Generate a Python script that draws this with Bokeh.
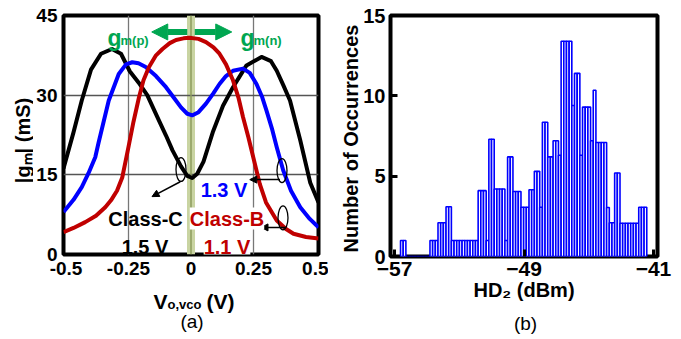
import numpy as np
from bokeh.plotting import figure
from bokeh.layouts import row, column
from bokeh.models import FixedTicker, Label, Arrow, NormalHead, Range1d, Span
from bokeh.core.properties import value
from bokeh.embed import file_html
from bokeh.resources import INLINE

# ---------------- Panel (a): |gm| vs V_o,vco ----------------
vx_classc = [-0.51, -0.47, -0.437, -0.40, -0.36, -0.316, -0.28, -0.245, -0.21, -0.175,
             -0.128, -0.10, -0.074, -0.04, -0.015, 0.005, 0.025, 0.05, 0.087, 0.128,
             0.168, 0.222, 0.282, 0.32, 0.343, 0.37, 0.396, 0.437, 0.477, 0.51]
gm_classc = [16.2, 23.0, 29.0, 34.8, 37.8, 38.7, 37.8, 34.5, 32.4, 30.0,
             25.2, 22.4, 19.6, 16.6, 14.8, 14.4, 15.2, 17.5, 23.0, 28.0,
             31.5, 35.6, 37.2, 36.4, 34.6, 31.8, 29.0, 21.5, 13.5, 9.8]

vx_13v = [-0.51, -0.47, -0.437, -0.41, -0.383, -0.37, -0.329, -0.289, -0.26, -0.235,
          -0.21, -0.181, -0.14, -0.10, -0.07, -0.04, -0.015, 0.006, 0.03, 0.06,
          0.09, 0.114, 0.14, 0.168, 0.208, 0.235, 0.262, 0.285, 0.302, 0.325,
          0.343, 0.369, 0.40, 0.437, 0.475, 0.51]
gm_13v = [8.0, 10.3, 12.7, 15.3, 18.3, 21.0, 29.0, 34.0, 35.8, 36.2,
          36.0, 35.3, 33.6, 31.5, 29.6, 27.7, 26.5, 26.2, 26.8, 28.4,
          30.4, 32.1, 33.6, 34.6, 35.0, 34.2, 32.1, 29.6, 27.1, 23.5,
          20.2, 15.8, 12.0, 8.9, 6.7, 5.1]

vx_classb = [-0.51, -0.47, -0.423, -0.38, -0.343, -0.32, -0.296, -0.275, -0.262, -0.249,
             -0.23, -0.208, -0.19, -0.168, -0.14, -0.114, -0.085, -0.06, -0.03, -0.007,
             0.03, 0.06, 0.09, 0.114, 0.14, 0.168, 0.19, 0.208, 0.23, 0.249,
             0.275, 0.30, 0.343, 0.38, 0.41, 0.46, 0.51]
gm_classb = [4.2, 5.0, 6.1, 7.3, 8.9, 10.2, 12.0, 14.5, 17.5, 20.5,
             25.0, 29.6, 32.8, 35.3, 37.5, 38.7, 39.8, 40.4, 40.7, 40.8,
             40.6, 40.0, 39.0, 37.8, 35.8, 32.8, 29.5, 25.9, 22.0, 18.3,
             13.3, 9.8, 6.4, 4.8, 3.9, 3.3, 3.0]

xticks_a = [-0.5, -0.25, 0, 0.25, 0.5]
yticks_a = [0, 15, 30, 45]

# annotation marks (ellipses / pointer arrows) in data units
ell_x = [-0.040, 0.364, 0.368]
ell_y = [16.0, 15.8, 6.9]
ptr_x0 = [-0.043, 0.356, 0.377]
ptr_y0 = [13.7, 14.1, 5.1]
ptr_x1 = [-0.156, 0.235, 0.280]
ptr_y1 = [10.9, 14.1, 5.1]

# ---------------- Panel (b): HD2 histogram ----------------
hd2_start = -56.63
hd2_bin = 0.1654
hd2_counts = [1, 1,
              0, 0, 0, 0, 0, 0, 0, 0, 0,
              1, 1, 1,
              2.1, 2.1, 2.1,
              3.1, 3.1,
              1, 1, 1, 1, 1, 1, 1, 1, 1, 1,
              4.1, 4.1, 4.1,
              1,
              7.3, 7.3,
              4.2, 4.2, 4.2, 4.2,
              1,
              6.2, 6.2,
              4.05, 4.05, 4.05,
              3.07, 3.07, 3.07,
              4.15, 4.15,
              5.3, 5.3,
              3.07,
              8.36, 8.36,
              6.2, 6.2,
              7.2, 7.2,
              6.3,
              13.4, 13.4, 13.4, 13.4,
              9.4,
              11.4, 11.4,
              6.3,
              9.3, 9.3, 9.3,
              7.2,
              10.35,
              7.1, 7.1, 7.1, 7.1,
              3.05,
              2.1, 2.1,
              5.2, 5.2,
              2.07, 2.07, 2.07, 2.07, 2.07, 2.07, 2.07,
              3.07, 3.07, 3.07]
xticks_b = [-57, -49, -41]
yticks_b = [0, 5, 10, 15]

FONT = "Liberation Sans"
GREEN = "#00a651"
RED = "#c00000"
BLUE = "#0000ff"


def style(p, xt, yt, tick_in, xfs, yfs, xstand, ystand):
    p.outline_line_color = "black"
    p.outline_line_width = 4
    p.background_fill_color = "white"
    p.border_fill_color = "white"
    p.xaxis.ticker = FixedTicker(ticks=xt)
    p.yaxis.ticker = FixedTicker(ticks=yt)
    for ax, fs, st in ((p.xaxis, xfs, xstand), (p.yaxis, yfs, ystand)):
        ax.axis_line_color = None
        ax.minor_tick_line_color = None
        ax.major_tick_out = 0
        ax.major_tick_in = tick_in
        ax.major_tick_line_width = 3
        ax.major_tick_line_color = "black" if tick_in else None
        ax.major_label_text_font = FONT
        ax.major_label_text_font_style = "bold"
        ax.major_label_text_font_size = fs
        ax.major_label_text_color = "black"
        ax.major_label_standoff = st


def text_fig(w, h, xr=None):
    f = figure(width=w, height=h, x_range=Range1d(0, xr if xr else w), y_range=Range1d(h, 0),
               output_backend="svg", toolbar_location=None, x_axis_type=None,
               y_axis_type=None, title=None, min_border=0, min_border_left=0,
               min_border_right=0, min_border_top=0, min_border_bottom=0)
    f.outline_line_color = None
    f.xgrid.visible = False
    f.ygrid.visible = False
    f.background_fill_color = "white"
    f.border_fill_color = "white"
    return f


def txt(f, x, y, s, size="20px", color="black", align="left", baseline="alphabetic",
        style_="bold", angle=0.0):
    f.text(x=[x], y=[y], text=[s], text_font=value(FONT), text_font_size=value(size),
           text_font_style=style_, text_color=color, text_align=align,
           text_baseline=baseline, angle=angle)


def lab(p, x, y, text, size="20px", color="black", align="left", baseline="alphabetic",
        style_="bold", bg=None):
    p.add_layout(Label(x=x, y=y, x_units="screen", y_units="screen", text=text,
                       text_font=FONT, text_font_size=size, text_font_style=style_,
                       text_color=color, text_align=align, text_baseline=baseline,
                       background_fill_color=bg))


# ---------- figure (a) ----------
p1 = figure(width=295, height=283, x_range=Range1d(-0.51, 0.51), y_range=Range1d(0, 45),
            output_backend="svg", toolbar_location=None,
            min_border_left=30, min_border_right=10, min_border_top=15, min_border_bottom=29)
style(p1, xticks_a, yticks_a, 0, "19px", "19px", 7, 6)
p1.xaxis.major_label_overrides = {-0.5: "-0.5", -0.25: "-0.25", 0: "0", 0.25: "0.25", 0.5: "0.5"}
p1.xgrid.ticker = FixedTicker(ticks=[-0.25, 0.25])
p1.ygrid.ticker = FixedTicker(ticks=[15, 30])
p1.xgrid.grid_line_color = "#777777"
p1.ygrid.grid_line_color = "#555555"
p1.xgrid.grid_line_width = 1.3
p1.ygrid.grid_line_width = 1.3

p1.quad(left=[-0.016], right=[0.016], bottom=[0], top=[45], fill_color="#c9d4a2",
        line_color=None, level="underlay")
p1.add_layout(Span(location=0, dimension="height", line_color="#8d9d5c", line_width=1.5,
                   level="underlay"))

p1.line(vx_classc, gm_classc, line_color="black", line_width=4, line_join="round")
p1.line(vx_13v, gm_13v, line_color=BLUE, line_width=4, line_join="round")
p1.line(vx_classb, gm_classb, line_color=RED, line_width=4, line_join="round")

p1.ellipse(x=ell_x, y=ell_y, width=0.04, height=4.5, fill_color=None,
           line_color="black", line_width=1.3)
for x0, y0, x1, y1 in zip(ptr_x0, ptr_y0, ptr_x1, ptr_y1):
    p1.add_layout(Arrow(x_start=x0, y_start=y0, x_end=x1, y_end=y1, line_width=1.5,
                        line_color="black",
                        end=NormalHead(size=7, fill_color="black", line_color="black")))

for x0, x1 in ((-0.015, -0.157), (0.015, 0.163)):
    p1.add_layout(Arrow(x_start=x0, y_start=41.9, x_end=x1, y_end=41.9, line_width=6,
                        line_color=GREEN,
                        end=NormalHead(size=16, fill_color=GREEN, line_color=GREEN, line_width=1)))

lab(p1, 44, 217, "g", size="23px", color=GREEN)
lab(p1, 57, 214, "m(p)", size="13px", color=GREEN)
lab(p1, 177, 217, "g", size="23px", color=GREEN)
lab(p1, 190, 214, "m(n)", size="13px", color=GREEN)

lab(p1, 82, 36, "Class-C", align="center")
lab(p1, 163.5, 36, "Class-B", align="center", color=RED, bg="white")
lab(p1, 81.5, 8, "1.5 V", align="center")
lab(p1, 163.5, 8, "1.1 V", align="center", color=RED, bg="white")
lab(p1, 160.5, 65, "1.3 V", align="center", color=BLUE)

# titles for (a): xa's frame is aligned with p1's frame (x measured from frame left)
ya = text_fig(33, 336)
txt(ya, 22, 140, "|gₘ| (mS)", align="center", baseline="middle", angle=np.pi / 2)
xa = text_fig(295, 53, xr=255)
txt(xa, 90, 18, "V", size="21px")
txt(xa, 104, 21, "o,vco", size="13px")
txt(xa, 143, 18, "(V)", size="21px")
txt(xa, 128.5, 38, "(a)", size="19px", align="center", style_="normal")

# ---------- figure (b) ----------
p2 = figure(width=313, height=308, x_range=Range1d(-57.25, -40.75), y_range=Range1d(0, 15),
            output_backend="svg", toolbar_location=None,
            min_border_left=29, min_border_right=16, min_border_top=15, min_border_bottom=52)
style(p2, xticks_b, yticks_b, 7, "21px", "20px", 5, 5)
p2.xgrid.grid_line_color = None
p2.ygrid.grid_line_color = None
p2.xaxis.axis_label = "HD₂ (dBm)"
p2.xaxis.axis_label_text_font = FONT
p2.xaxis.axis_label_text_font_style = "bold"
p2.xaxis.axis_label_text_font_size = "20px"
p2.xaxis.axis_label_text_color = "black"
p2.xaxis.axis_label_standoff = 0

centers = hd2_start + hd2_bin * (np.arange(len(hd2_counts)) + 0.5)
p2.vbar(x=centers, top=hd2_counts, bottom=0, width=hd2_bin, fill_color="white",
        line_color=BLUE, line_width=1.6)

yb = text_fig(32, 336)
txt(yb, 22, 138, "Number of Occurrences", align="center", baseline="middle", angle=np.pi / 2)
xb = text_fig(313, 28, xr=268)
txt(xb, 135.5, 15, "(b)", size="19px", align="center", style_="normal")

layout = row(ya, column(p1, xa), yb, column(p2, xb))
open("out.html", "w").write(file_html(layout, INLINE))
